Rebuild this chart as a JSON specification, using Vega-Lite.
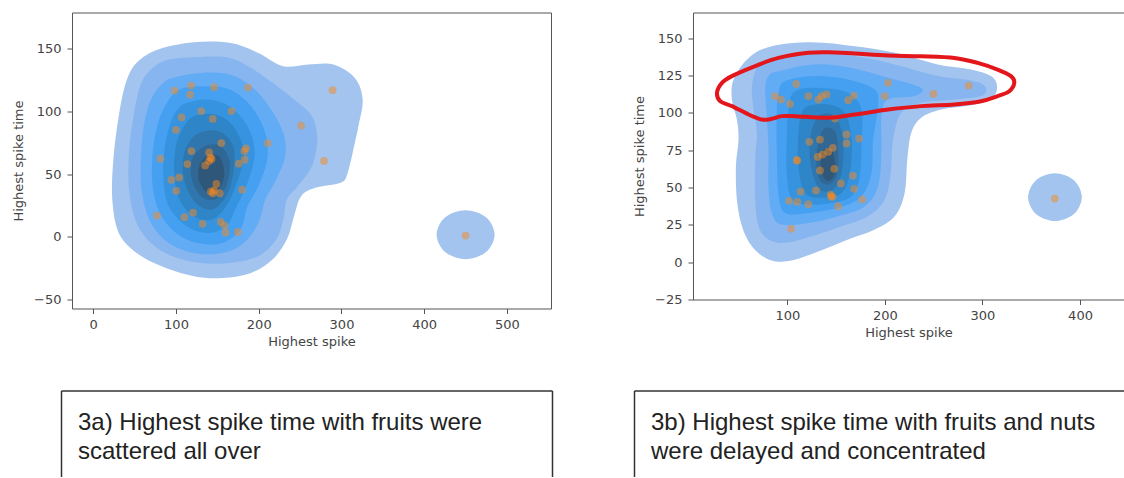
{
  "$schema": "https://vega.github.io/schema/vega-lite/v6.json",
  "background": "white",
  "padding": {"left": 12, "top": 12.5, "right": 0, "bottom": 0},
  "config": {
    "font": "DejaVu Sans",
    "view": {"stroke": null},
    "axis": {
      "grid": false,
      "labelFont": "DejaVu Sans",
      "labelFontSize": 13,
      "labelColor": "#444",
      "titleFont": "DejaVu Sans",
      "titleFontSize": 13,
      "titleFontWeight": "normal",
      "titleColor": "#444",
      "tickColor": "#555",
      "tickSize": 5,
      "domainColor": "#555",
      "domainWidth": 1
    }
  },
  "datasets": {
    "kde1": [
      {"p":"1a","l":1,"i":0,"x":121.5,"y":154.8},{"p":"1a","l":1,"i":1,"x":164.8,"y":154.3},{"p":"1a","l":1,"i":2,"x":199.4,"y":146.3},{"p":"1a","l":1,"i":3,"x":229.6,"y":135.7},{"p":"1a","l":1,"i":4,"x":259.9,"y":137.0},{"p":"1a","l":1,"i":5,"x":290.1,"y":137.0},{"p":"1a","l":1,"i":6,"x":316.1,"y":126.4},{"p":"1a","l":1,"i":7,"x":325.6,"y":109.2},{"p":"1a","l":1,"i":8,"x":320.4,"y":88.0},{"p":"1a","l":1,"i":9,"x":316.1,"y":74.7},{"p":"1a","l":1,"i":10,"x":307.4,"y":50.9},{"p":"1a","l":1,"i":11,"x":298.8,"y":43.0},{"p":"1a","l":1,"i":12,"x":268.5,"y":39.0},{"p":"1a","l":1,"i":13,"x":251.2,"y":32.4},{"p":"1a","l":1,"i":14,"x":242.6,"y":16.5},{"p":"1a","l":1,"i":15,"x":233.9,"y":-2.1},{"p":"1a","l":1,"i":16,"x":216.6,"y":-18.0},{"p":"1a","l":1,"i":17,"x":190.7,"y":-28.6},{"p":"1a","l":1,"i":18,"x":156.1,"y":-32.6},{"p":"1a","l":1,"i":19,"x":121.5,"y":-31.2},{"p":"1a","l":1,"i":20,"x":82.6,"y":-23.3},{"p":"1a","l":1,"i":21,"x":52.4,"y":-12.7},{"p":"1a","l":1,"i":22,"x":30.8,"y":3.2},{"p":"1a","l":1,"i":23,"x":23.0,"y":29.7},{"p":"1a","l":1,"i":24,"x":24.3,"y":61.5},{"p":"1a","l":1,"i":25,"x":30.8,"y":96.0},{"p":"1a","l":1,"i":26,"x":39.4,"y":122.5},{"p":"1a","l":1,"i":27,"x":52.4,"y":138.4},{"p":"1a","l":1,"i":28,"x":78.3,"y":149.0},
      {"p":"1b","l":1,"i":0,"x":485,"y":1.8},{"p":"1b","l":1,"i":1,"x":474.7,"y":15.6},{"p":"1b","l":1,"i":2,"x":450,"y":21.3},{"p":"1b","l":1,"i":3,"x":425.3,"y":15.6},{"p":"1b","l":1,"i":4,"x":415,"y":1.8},{"p":"1b","l":1,"i":5,"x":425.3,"y":-12},{"p":"1b","l":1,"i":6,"x":450,"y":-17.7},{"p":"1b","l":1,"i":7,"x":474.7,"y":-12},
      {"p":"2","l":2,"i":0,"x":91.3,"y":141.0},{"p":"2","l":2,"i":1,"x":130.2,"y":143.1},{"p":"2","l":2,"i":2,"x":164.8,"y":142.3},{"p":"2","l":2,"i":3,"x":190.7,"y":134.4},{"p":"2","l":2,"i":4,"x":216.6,"y":122.5},{"p":"2","l":2,"i":5,"x":242.6,"y":109.2},{"p":"2","l":2,"i":6,"x":264.2,"y":96.0},{"p":"2","l":2,"i":7,"x":270.7,"y":77.4},{"p":"2","l":2,"i":8,"x":264.2,"y":56.2},{"p":"2","l":2,"i":9,"x":246.9,"y":40.3},{"p":"2","l":2,"i":10,"x":233.9,"y":29.7},{"p":"2","l":2,"i":11,"x":229.6,"y":13.8},{"p":"2","l":2,"i":12,"x":221.0,"y":-2.1},{"p":"2","l":2,"i":13,"x":199.4,"y":-15.4},{"p":"2","l":2,"i":14,"x":164.8,"y":-20.7},{"p":"2","l":2,"i":15,"x":130.2,"y":-20.7},{"p":"2","l":2,"i":16,"x":95.6,"y":-15.4},{"p":"2","l":2,"i":17,"x":69.7,"y":-4.8},{"p":"2","l":2,"i":18,"x":52.4,"y":11.1},{"p":"2","l":2,"i":19,"x":43.7,"y":35.0},{"p":"2","l":2,"i":20,"x":42.9,"y":64.2},{"p":"2","l":2,"i":21,"x":48.1,"y":93.3},{"p":"2","l":2,"i":22,"x":56.7,"y":119.8},{"p":"2","l":2,"i":23,"x":69.7,"y":133.1},
      {"p":"3","l":3,"i":0,"x":95.6,"y":126.4},{"p":"3","l":3,"i":1,"x":130.2,"y":130.4},{"p":"3","l":3,"i":2,"x":164.8,"y":129.1},{"p":"3","l":3,"i":3,"x":190.7,"y":119.8},{"p":"3","l":3,"i":4,"x":212.3,"y":103.9},{"p":"3","l":3,"i":5,"x":229.6,"y":82.7},{"p":"3","l":3,"i":6,"x":231.8,"y":64.2},{"p":"3","l":3,"i":7,"x":221.0,"y":45.6},{"p":"3","l":3,"i":8,"x":208.0,"y":29.7},{"p":"3","l":3,"i":9,"x":199.4,"y":11.1},{"p":"3","l":3,"i":10,"x":182.1,"y":-4.8},{"p":"3","l":3,"i":11,"x":156.1,"y":-12.7},{"p":"3","l":3,"i":12,"x":121.5,"y":-12.7},{"p":"3","l":3,"i":13,"x":91.3,"y":-4.8},{"p":"3","l":3,"i":14,"x":69.7,"y":11.1},{"p":"3","l":3,"i":15,"x":58.9,"y":35.0},{"p":"3","l":3,"i":16,"x":57.6,"y":61.5},{"p":"3","l":3,"i":17,"x":61.0,"y":88.0},{"p":"3","l":3,"i":18,"x":69.7,"y":109.2},{"p":"3","l":3,"i":19,"x":82.6,"y":121.1},
      {"p":"4","l":4,"i":0,"x":104.3,"y":117.2},{"p":"4","l":4,"i":1,"x":134.5,"y":119.8},{"p":"4","l":4,"i":2,"x":164.8,"y":117.2},{"p":"4","l":4,"i":3,"x":190.7,"y":103.9},{"p":"4","l":4,"i":4,"x":208.0,"y":82.7},{"p":"4","l":4,"i":5,"x":210.2,"y":61.5},{"p":"4","l":4,"i":6,"x":199.4,"y":40.3},{"p":"4","l":4,"i":7,"x":186.4,"y":24.4},{"p":"4","l":4,"i":8,"x":177.7,"y":5.9},{"p":"4","l":4,"i":9,"x":156.1,"y":-4.8},{"p":"4","l":4,"i":10,"x":125.9,"y":-4.8},{"p":"4","l":4,"i":11,"x":99.9,"y":3.2},{"p":"4","l":4,"i":12,"x":80.5,"y":19.1},{"p":"4","l":4,"i":13,"x":71.8,"y":40.3},{"p":"4","l":4,"i":14,"x":71.8,"y":66.8},{"p":"4","l":4,"i":15,"x":78.3,"y":90.7},{"p":"4","l":4,"i":16,"x":89.1,"y":106.6},
      {"p":"5","l":5,"i":0,"x":112.9,"y":106.6},{"p":"5","l":5,"i":1,"x":138.8,"y":109.2},{"p":"5","l":5,"i":2,"x":164.8,"y":103.9},{"p":"5","l":5,"i":3,"x":186.4,"y":88.0},{"p":"5","l":5,"i":4,"x":195.0,"y":66.8},{"p":"5","l":5,"i":5,"x":186.4,"y":43.0},{"p":"5","l":5,"i":6,"x":173.4,"y":24.4},{"p":"5","l":5,"i":7,"x":160.5,"y":8.5},{"p":"5","l":5,"i":8,"x":138.8,"y":3.2},{"p":"5","l":5,"i":9,"x":112.9,"y":8.5},{"p":"5","l":5,"i":10,"x":91.3,"y":24.4},{"p":"5","l":5,"i":11,"x":84.8,"y":45.6},{"p":"5","l":5,"i":12,"x":86.1,"y":69.4},{"p":"5","l":5,"i":13,"x":93.4,"y":90.7},{"p":"5","l":5,"i":14,"x":102.1,"y":101.3},
      {"p":"6","l":6,"i":0,"x":121.5,"y":96.0},{"p":"6","l":6,"i":1,"x":147.5,"y":97.3},{"p":"6","l":6,"i":2,"x":169.1,"y":88.0},{"p":"6","l":6,"i":3,"x":182.1,"y":66.8},{"p":"6","l":6,"i":4,"x":173.4,"y":43.0},{"p":"6","l":6,"i":5,"x":160.5,"y":24.4},{"p":"6","l":6,"i":6,"x":143.2,"y":13.8},{"p":"6","l":6,"i":7,"x":121.5,"y":16.5},{"p":"6","l":6,"i":8,"x":104.3,"y":29.7},{"p":"6","l":6,"i":9,"x":97.8,"y":50.9},{"p":"6","l":6,"i":10,"x":99.9,"y":72.1},{"p":"6","l":6,"i":11,"x":108.6,"y":86.7},
      {"p":"7","l":7,"i":0,"x":128.0,"y":82.7},{"p":"7","l":7,"i":1,"x":151.8,"y":84.0},{"p":"7","l":7,"i":2,"x":169.1,"y":72.1},{"p":"7","l":7,"i":3,"x":169.1,"y":50.9},{"p":"7","l":7,"i":4,"x":160.5,"y":32.4},{"p":"7","l":7,"i":5,"x":143.2,"y":21.8},{"p":"7","l":7,"i":6,"x":123.7,"y":27.1},{"p":"7","l":7,"i":7,"x":110.7,"y":43.0},{"p":"7","l":7,"i":8,"x":108.6,"y":61.5},{"p":"7","l":7,"i":9,"x":115.1,"y":74.7},
      {"p":"8","l":8,"i":0,"x":134.5,"y":72.1},{"p":"8","l":8,"i":1,"x":154.0,"y":72.1},{"p":"8","l":8,"i":2,"x":164.8,"y":58.9},{"p":"8","l":8,"i":3,"x":160.5,"y":40.3},{"p":"8","l":8,"i":4,"x":147.5,"y":29.7},{"p":"8","l":8,"i":5,"x":130.2,"y":32.4},{"p":"8","l":8,"i":6,"x":119.4,"y":45.6},{"p":"8","l":8,"i":7,"x":119.4,"y":61.5},
      {"p":"9","l":9,"i":0,"x":136.7,"y":64.2},{"p":"9","l":9,"i":1,"x":151.8,"y":64.2},{"p":"9","l":9,"i":2,"x":158.3,"y":50.9},{"p":"9","l":9,"i":3,"x":151.8,"y":37.7},{"p":"9","l":9,"i":4,"x":138.8,"y":35.0},{"p":"9","l":9,"i":5,"x":128.0,"y":44.3},{"p":"9","l":9,"i":6,"x":128.0,"y":56.2}
    ],
    "pts1": [
      {"x":98.3,"y":116.3},{"x":118.2,"y":120.3},{"x":117.0,"y":113.1},{"x":146.0,"y":119.0},{"x":187.0,"y":118.7},{"x":106.6,"y":95.1},{"x":130.5,"y":100.1},{"x":167.1,"y":100.1},{"x":144.4,"y":93.8},{"x":99.9,"y":85.0},{"x":154.8,"y":74.6},{"x":210.9,"y":74.6},{"x":118.6,"y":68.3},{"x":140.0,"y":67.2},{"x":141.6,"y":63.0},{"x":184.6,"y":70.4},{"x":182.6,"y":68.3},{"x":81.2,"y":62.2},{"x":113.8,"y":57.9},{"x":135.3,"y":56.8},{"x":140.0,"y":60.3},{"x":175.8,"y":58.2},{"x":183.0,"y":61.4},{"x":94.3,"y":45.4},{"x":103.8,"y":47.3},{"x":100.3,"y":36.7},{"x":148.8,"y":42.2},{"x":142.0,"y":36.1},{"x":152.8,"y":34.8},{"x":144.4,"y":34.8},{"x":179.8,"y":37.5},{"x":77.2,"y":17.0},{"x":110.2,"y":15.7},{"x":120.6,"y":19.4},{"x":132.1,"y":10.4},{"x":154.0,"y":12.0},{"x":158.7,"y":9.0},{"x":159.9,"y":3.5},{"x":174.7,"y":4.0},{"x":289.2,"y":116.6},{"x":251.2,"y":88.5},{"x":278.8,"y":60.4},{"x":450.0,"y":1.1},{"x":143.0,"y":62.0},{"x":146.0,"y":37.0}
    ],
    "kde2": [
      {"p":"1a","l":1,"i":0,"x":60.2,"y":136.8},{"p":"1a","l":1,"i":1,"x":84.0,"y":144.6},{"p":"1a","l":1,"i":2,"x":124.9,"y":147.3},{"p":"1a","l":1,"i":3,"x":169.1,"y":144.6},{"p":"1a","l":1,"i":4,"x":210.0,"y":140.2},{"p":"1a","l":1,"i":5,"x":254.2,"y":132.4},{"p":"1a","l":1,"i":6,"x":288.3,"y":129.0},{"p":"1a","l":1,"i":7,"x":308.7,"y":124.6},{"p":"1a","l":1,"i":8,"x":314.9,"y":117.9},{"p":"1a","l":1,"i":9,"x":310.4,"y":110.0},{"p":"1a","l":1,"i":10,"x":291.7,"y":105.6},{"p":"1a","l":1,"i":11,"x":257.7,"y":102.2},{"p":"1a","l":1,"i":12,"x":237.2,"y":96.7},{"p":"1a","l":1,"i":13,"x":227.0,"y":86.6},{"p":"1a","l":1,"i":14,"x":222.9,"y":68.8},{"p":"1a","l":1,"i":15,"x":220.2,"y":46.4},{"p":"1a","l":1,"i":16,"x":210.0,"y":30.8},{"p":"1a","l":1,"i":17,"x":189.6,"y":21.9},{"p":"1a","l":1,"i":18,"x":162.3,"y":15.2},{"p":"1a","l":1,"i":19,"x":128.3,"y":6.3},{"p":"1a","l":1,"i":20,"x":101.0,"y":0.7},{"p":"1a","l":1,"i":21,"x":80.6,"y":1.8},{"p":"1a","l":1,"i":22,"x":63.6,"y":10.7},{"p":"1a","l":1,"i":23,"x":53.4,"y":24.1},{"p":"1a","l":1,"i":24,"x":48.2,"y":42.0},{"p":"1a","l":1,"i":25,"x":47.2,"y":64.3},{"p":"1a","l":1,"i":26,"x":49.9,"y":82.1},{"p":"1a","l":1,"i":27,"x":48.2,"y":95.5},{"p":"1a","l":1,"i":28,"x":43.1,"y":108.9},{"p":"1a","l":1,"i":29,"x":44.8,"y":122.3},
      {"p":"1b","l":1,"i":0,"x":401.8,"y":43.5},{"p":"1b","l":1,"i":1,"x":393.7,"y":54.8},{"p":"1b","l":1,"i":2,"x":374.3,"y":59.5},{"p":"1b","l":1,"i":3,"x":354.9,"y":54.8},{"p":"1b","l":1,"i":4,"x":346.8,"y":43.5},{"p":"1b","l":1,"i":5,"x":354.9,"y":32.2},{"p":"1b","l":1,"i":6,"x":374.3,"y":27.5},{"p":"1b","l":1,"i":7,"x":393.7,"y":32.2},
      {"p":"2","l":2,"i":0,"x":77.2,"y":134.6},{"p":"2","l":2,"i":1,"x":121.5,"y":140.2},{"p":"2","l":2,"i":2,"x":169.1,"y":137.9},{"p":"2","l":2,"i":3,"x":210.0,"y":132.4},{"p":"2","l":2,"i":4,"x":254.2,"y":124.6},{"p":"2","l":2,"i":5,"x":291.7,"y":121.2},{"p":"2","l":2,"i":6,"x":303.6,"y":116.7},{"p":"2","l":2,"i":7,"x":298.5,"y":111.2},{"p":"2","l":2,"i":8,"x":271.3,"y":108.9},{"p":"2","l":2,"i":9,"x":237.2,"y":106.7},{"p":"2","l":2,"i":10,"x":216.8,"y":100.0},{"p":"2","l":2,"i":11,"x":208.3,"y":82.1},{"p":"2","l":2,"i":12,"x":205.9,"y":59.8},{"p":"2","l":2,"i":13,"x":199.8,"y":42.0},{"p":"2","l":2,"i":14,"x":182.7,"y":30.8},{"p":"2","l":2,"i":15,"x":155.5,"y":24.1},{"p":"2","l":2,"i":16,"x":124.9,"y":17.4},{"p":"2","l":2,"i":17,"x":97.6,"y":13.0},{"p":"2","l":2,"i":18,"x":80.6,"y":15.2},{"p":"2","l":2,"i":19,"x":70.4,"y":24.1},{"p":"2","l":2,"i":20,"x":67.0,"y":42.0},{"p":"2","l":2,"i":21,"x":67.0,"y":68.8},{"p":"2","l":2,"i":22,"x":68.7,"y":86.6},{"p":"2","l":2,"i":23,"x":65.3,"y":102.2},{"p":"2","l":2,"i":24,"x":63.6,"y":115.6},{"p":"2","l":2,"i":25,"x":67.0,"y":127.9},
      {"p":"3","l":3,"i":0,"x":90.8,"y":127.9},{"p":"3","l":3,"i":1,"x":128.3,"y":132.4},{"p":"3","l":3,"i":2,"x":165.7,"y":130.1},{"p":"3","l":3,"i":3,"x":203.2,"y":123.5},{"p":"3","l":3,"i":4,"x":237.2,"y":116.7},{"p":"3","l":3,"i":5,"x":230.4,"y":111.2},{"p":"3","l":3,"i":6,"x":203.2,"y":108.9},{"p":"3","l":3,"i":7,"x":196.4,"y":97.8},{"p":"3","l":3,"i":8,"x":196.4,"y":75.5},{"p":"3","l":3,"i":9,"x":193.0,"y":50.9},{"p":"3","l":3,"i":10,"x":179.3,"y":37.5},{"p":"3","l":3,"i":11,"x":152.1,"y":30.8},{"p":"3","l":3,"i":12,"x":121.5,"y":26.3},{"p":"3","l":3,"i":13,"x":94.2,"y":25.2},{"p":"3","l":3,"i":14,"x":84.0,"y":33.0},{"p":"3","l":3,"i":15,"x":80.6,"y":50.9},{"p":"3","l":3,"i":16,"x":80.6,"y":75.5},{"p":"3","l":3,"i":17,"x":78.9,"y":97.8},{"p":"3","l":3,"i":18,"x":77.2,"y":115.6},{"p":"3","l":3,"i":19,"x":80.6,"y":124.6},
      {"p":"4","l":4,"i":0,"x":97.6,"y":121.2},{"p":"4","l":4,"i":1,"x":128.3,"y":124.6},{"p":"4","l":4,"i":2,"x":162.3,"y":122.3},{"p":"4","l":4,"i":3,"x":189.6,"y":115.6},{"p":"4","l":4,"i":4,"x":193.0,"y":104.5},{"p":"4","l":4,"i":5,"x":187.9,"y":82.1},{"p":"4","l":4,"i":6,"x":186.2,"y":59.8},{"p":"4","l":4,"i":7,"x":176.0,"y":44.2},{"p":"4","l":4,"i":8,"x":152.1,"y":36.4},{"p":"4","l":4,"i":9,"x":121.5,"y":33.0},{"p":"4","l":4,"i":10,"x":97.6,"y":33.0},{"p":"4","l":4,"i":11,"x":90.8,"y":46.4},{"p":"4","l":4,"i":12,"x":89.1,"y":75.5},{"p":"4","l":4,"i":13,"x":89.1,"y":100.0},{"p":"4","l":4,"i":14,"x":90.8,"y":113.4},
      {"p":"5","l":5,"i":0,"x":107.8,"y":114.5},{"p":"5","l":5,"i":1,"x":135.1,"y":116.7},{"p":"5","l":5,"i":2,"x":162.3,"y":113.4},{"p":"5","l":5,"i":3,"x":176.0,"y":102.2},{"p":"5","l":5,"i":4,"x":176.0,"y":79.9},{"p":"5","l":5,"i":5,"x":174.2,"y":57.6},{"p":"5","l":5,"i":6,"x":165.7,"y":44.2},{"p":"5","l":5,"i":7,"x":145.3,"y":39.7},{"p":"5","l":5,"i":8,"x":121.5,"y":38.6},{"p":"5","l":5,"i":9,"x":104.4,"y":42.0},{"p":"5","l":5,"i":10,"x":99.3,"y":59.8},{"p":"5","l":5,"i":11,"x":99.3,"y":82.1},{"p":"5","l":5,"i":12,"x":101.0,"y":102.2},
      {"p":"6","l":6,"i":0,"x":121.5,"y":104.5},{"p":"6","l":6,"i":1,"x":141.9,"y":105.6},{"p":"6","l":6,"i":2,"x":158.9,"y":100.0},{"p":"6","l":6,"i":3,"x":165.7,"y":82.1},{"p":"6","l":6,"i":4,"x":164.0,"y":59.8},{"p":"6","l":6,"i":5,"x":155.5,"y":46.4},{"p":"6","l":6,"i":6,"x":135.1,"y":43.1},{"p":"6","l":6,"i":7,"x":118.1,"y":46.4},{"p":"6","l":6,"i":8,"x":111.3,"y":64.3},{"p":"6","l":6,"i":9,"x":111.3,"y":86.6},{"p":"6","l":6,"i":10,"x":114.7,"y":100.0},
      {"p":"7","l":7,"i":0,"x":131.7,"y":97.8},{"p":"7","l":7,"i":1,"x":148.7,"y":97.8},{"p":"7","l":7,"i":2,"x":157.2,"y":82.1},{"p":"7","l":7,"i":3,"x":155.5,"y":59.8},{"p":"7","l":7,"i":4,"x":147.0,"y":48.7},{"p":"7","l":7,"i":5,"x":133.4,"y":48.7},{"p":"7","l":7,"i":6,"x":124.9,"y":62.0},{"p":"7","l":7,"i":7,"x":123.2,"y":82.1},
      {"p":"8","l":8,"i":0,"x":136.8,"y":88.8},{"p":"8","l":8,"i":1,"x":148.7,"y":87.7},{"p":"8","l":8,"i":2,"x":152.1,"y":73.2},{"p":"8","l":8,"i":3,"x":150.4,"y":57.6},{"p":"8","l":8,"i":4,"x":140.2,"y":52.0},{"p":"8","l":8,"i":5,"x":131.7,"y":57.6},{"p":"8","l":8,"i":6,"x":130.0,"y":73.2},
      {"p":"9","l":9,"i":0,"x":138.5,"y":75.5},{"p":"9","l":9,"i":1,"x":147.0,"y":73.2},{"p":"9","l":9,"i":2,"x":148.7,"y":59.8},{"p":"9","l":9,"i":3,"x":141.9,"y":54.3},{"p":"9","l":9,"i":4,"x":135.1,"y":59.8},{"p":"9","l":9,"i":5,"x":134.4,"y":71.0}
    ],
    "pts2": [
      {"x":108.9,"y":119.4},{"x":87.4,"y":111.2},{"x":93.5,"y":108.9},{"x":102.7,"y":106.0},{"x":121.5,"y":111.2},{"x":131.7,"y":108.9},{"x":135.1,"y":111.2},{"x":140.2,"y":112.3},{"x":162.3,"y":108.5},{"x":168.1,"y":111.6},{"x":199.8,"y":111.2},{"x":203.2,"y":120.1},{"x":249.8,"y":112.7},{"x":285.9,"y":118.3},{"x":148.7,"y":96.2},{"x":122.5,"y":80.6},{"x":133.4,"y":82.1},{"x":160.6,"y":85.5},{"x":160.6,"y":79.5},{"x":173.5,"y":82.8},{"x":109.5,"y":68.5},{"x":131.0,"y":70.5},{"x":136.1,"y":72.1},{"x":141.9,"y":73.9},{"x":146.6,"y":76.6},{"x":133.4,"y":61.4},{"x":148.0,"y":62.5},{"x":167.1,"y":58.0},{"x":154.8,"y":52.7},{"x":113.6,"y":47.3},{"x":129.3,"y":48.0},{"x":168.4,"y":49.1},{"x":144.3,"y":45.3},{"x":146.3,"y":43.8},{"x":101.7,"y":41.1},{"x":110.2,"y":40.4},{"x":121.5,"y":38.8},{"x":152.1,"y":37.5},{"x":176.6,"y":42.0},{"x":103.7,"y":22.3},{"x":374.1,"y":42.6},{"x":145.0,"y":44.0},{"x":110.0,"y":68.0}
    ],
    "red": [
      {"i":0,"x":32.9,"y":120.1},{"i":1,"x":43.1,"y":124.6},{"i":2,"x":67.0,"y":131.3},{"i":3,"x":90.8,"y":136.8},{"i":4,"x":121.5,"y":140.2},{"i":5,"x":141.9,"y":140.6},{"i":6,"x":169.1,"y":139.7},{"i":7,"x":203.2,"y":138.4},{"i":8,"x":237.2,"y":137.9},{"i":9,"x":271.3,"y":136.8},{"i":10,"x":295.1,"y":133.5},{"i":11,"x":315.5,"y":129.0},{"i":12,"x":329.2,"y":124.6},{"i":13,"x":332.6,"y":120.1},{"i":14,"x":327.5,"y":114.5},{"i":15,"x":315.5,"y":111.2},{"i":16,"x":298.5,"y":107.8},{"i":17,"x":271.3,"y":105.6},{"i":18,"x":237.2,"y":104.5},{"i":19,"x":203.2,"y":102.2},{"i":20,"x":169.1,"y":98.9},{"i":21,"x":141.9,"y":96.7},{"i":22,"x":107.8,"y":97.8},{"i":23,"x":94.2,"y":97.8},{"i":24,"x":84.0,"y":96.0},{"i":25,"x":73.8,"y":95.5},{"i":26,"x":60.2,"y":98.9},{"i":27,"x":43.1,"y":104.5},{"i":28,"x":31.2,"y":107.8},{"i":29,"x":27.8,"y":113.4}
    ],
    "empty": []
  },
  "columns": 2,
  "spacing": {"row": 82, "column": 82},
  "bounds": "flush",
  "align": "each",
  "resolve": {"scale": {"fill": "independent"}},
  "concat": [
    {
      "width": 490,
      "height": 296,
      "layer": [
        {
          "data": {"name": "kde1"},
          "mark": {"type": "line", "interpolate": "cardinal-closed", "strokeWidth": 0, "strokeOpacity": 0},
          "encoding": {
            "x": {"field": "x", "type": "quantitative", "scale": {"domain": [-25.7, 553.2], "range": [11, 490], "nice": false, "zero": false}, "axis": {"orient": "bottom", "values": [0, 100, 200, 300, 400, 500], "title": "Highest spike", "labelPadding": 5, "titlePadding": 4}},
            "y": {"field": "y", "type": "quantitative", "scale": {"domain": [-56.9, 178.4], "nice": false, "zero": false}, "axis": {"orient": "left", "offset": -11, "values": [-50, 0, 50, 100, 150], "title": "Highest spike time", "labelPadding": 6, "titlePadding": 8}},
            "fill": {"field": "l", "type": "ordinal", "scale": {"domain": [1, 2, 3, 4, 5, 6, 7, 8, 9], "range": ["#a2c4ee", "#86b5f0", "#62abf5", "#45a0f2", "#3593e0", "#2e85c8", "#2f76ae", "#306794", "#2f5779"]}, "legend": null},
            "detail": {"field": "p", "type": "nominal"},
            "order": {"field": "i", "type": "quantitative"}
          }
        },
        {
          "data": {"name": "pts1"},
          "mark": {"type": "circle", "size": 60, "color": "#f5891f", "opacity": 0.5},
          "encoding": {
            "x": {"field": "x", "type": "quantitative", "axis": {"orient": "top", "labels": false, "ticks": false, "title": null}},
            "y": {"field": "y", "type": "quantitative", "axis": {"orient": "right", "labels": false, "ticks": false, "title": null}}
          }
        }
      ],
      "resolve": {"axis": {"x": "independent", "y": "independent"}}
    },
    {
      "width": 490,
      "height": 287,
      "layer": [
        {
          "data": {"name": "kde2"},
          "mark": {"type": "line", "interpolate": "cardinal-closed", "strokeWidth": 0, "strokeOpacity": 0},
          "encoding": {
            "x": {"field": "x", "type": "quantitative", "scale": {"domain": [3.2, 445.1], "range": [59, 490], "nice": false, "zero": false}, "axis": {"orient": "bottom", "values": [100, 200, 300, 400], "title": "Highest spike", "labelPadding": 5, "titlePadding": 4}},
            "y": {"field": "y", "type": "quantitative", "scale": {"domain": [-25, 167.2], "nice": false, "zero": false}, "axis": {"orient": "left", "offset": -59, "values": [-25, 0, 25, 50, 75, 100, 125, 150], "title": "Highest spike time", "labelPadding": 6, "titlePadding": 8}},
            "fill": {"field": "l", "type": "ordinal", "scale": {"domain": [1, 2, 3, 4, 5, 6, 7, 8, 9], "range": ["#a2c4ee", "#86b5f0", "#62abf5", "#45a0f2", "#3593e0", "#2e85c8", "#2f76ae", "#306794", "#2f5779"]}, "legend": null},
            "detail": {"field": "p", "type": "nominal"},
            "order": {"field": "i", "type": "quantitative"}
          }
        },
        {
          "data": {"name": "pts2"},
          "mark": {"type": "circle", "size": 60, "color": "#f5891f", "opacity": 0.5},
          "encoding": {
            "x": {"field": "x", "type": "quantitative", "axis": {"orient": "top", "labels": false, "ticks": false, "title": null}},
            "y": {"field": "y", "type": "quantitative", "axis": null}
          }
        },
        {
          "data": {"name": "red"},
          "mark": {"type": "line", "interpolate": "cardinal-closed", "color": "#e3161c", "strokeWidth": 4},
          "encoding": {
            "x": {"field": "x", "type": "quantitative", "axis": null},
            "y": {"field": "y", "type": "quantitative", "axis": null},
            "order": {"field": "i", "type": "quantitative"}
          }
        }
      ],
      "resolve": {"axis": {"x": "independent", "y": "independent"}}
    },
    {
      "width": 491,
      "height": 86,
      "title": {"text": ["3a) Highest spike time with fruits were", "scattered all over"], "orient": "top", "anchor": "start", "frame": "group", "offset": -73, "dx": 17, "baseline": "top", "font": "Liberation Sans", "fontSize": 24, "fontWeight": "normal", "color": "#222", "lineHeight": 29},
      "layer": [
        {
          "data": {"name": "empty"},
          "mark": "point",
          "encoding": {
            "x": {"field": "a", "type": "quantitative", "scale": {"domain": [0, 1], "nice": false}, "axis": {"orient": "top", "labels": false, "ticks": false, "title": null, "domainColor": "#333", "domainWidth": 1.5}},
            "y": {"field": "b", "type": "quantitative", "scale": {"domain": [0, 1], "nice": false}, "axis": {"orient": "left", "labels": false, "ticks": false, "title": null, "domainColor": "#333", "domainWidth": 1.5}}
          }
        },
        {
          "data": {"name": "empty"},
          "mark": "point",
          "encoding": {
            "x": {"field": "a", "type": "quantitative", "axis": null},
            "y": {"field": "b", "type": "quantitative", "axis": {"orient": "right", "labels": false, "ticks": false, "title": null, "domainColor": "#333", "domainWidth": 1.5}}
          }
        }
      ],
      "resolve": {"axis": {"x": "independent", "y": "independent"}}
    },
    {
      "width": 490,
      "height": 86,
      "title": {"text": ["3b) Highest spike time with fruits and nuts", "were delayed and concentrated"], "orient": "top", "anchor": "start", "frame": "group", "offset": -73, "dx": 17, "baseline": "top", "font": "Liberation Sans", "fontSize": 24, "fontWeight": "normal", "color": "#222", "lineHeight": 29},
      "data": {"name": "empty"},
      "mark": "point",
      "encoding": {
        "x": {"field": "a", "type": "quantitative", "scale": {"domain": [0, 1], "nice": false}, "axis": {"orient": "top", "labels": false, "ticks": false, "title": null, "domainColor": "#333", "domainWidth": 1.5}},
        "y": {"field": "b", "type": "quantitative", "scale": {"domain": [0, 1], "nice": false}, "axis": {"orient": "left", "labels": false, "ticks": false, "title": null, "domainColor": "#333", "domainWidth": 1.5}}
      }
    }
  ]
}
